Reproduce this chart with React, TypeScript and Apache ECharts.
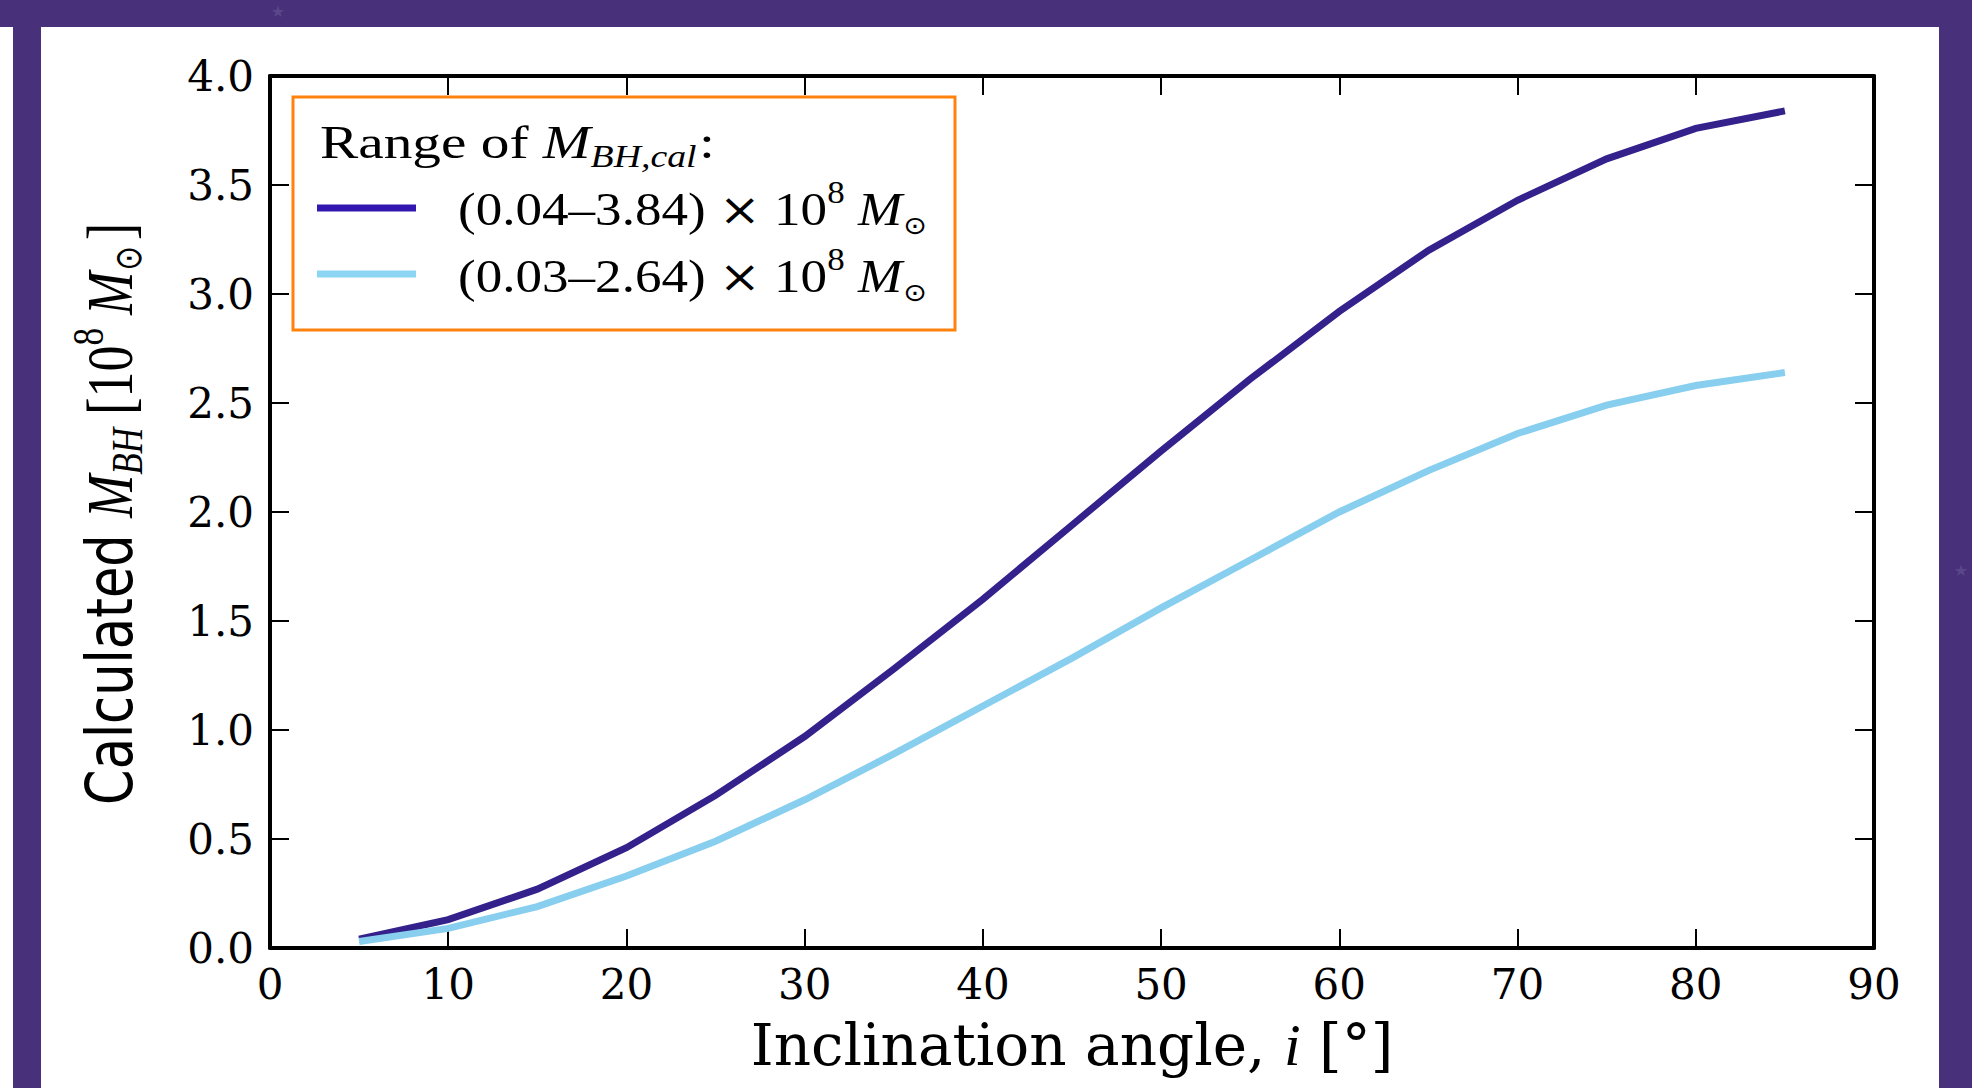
import React, { useEffect, useRef } from "react";
import * as echarts from "echarts";

// ---- data ----
const inclination = [5, 10, 15, 20, 25, 30, 35, 40, 45, 50, 55, 60, 65, 70, 75, 80, 85];
const massHigh = [0.04, 0.13, 0.27, 0.46, 0.7, 0.97, 1.28, 1.6, 1.94, 2.28, 2.61, 2.92, 3.2, 3.43, 3.62, 3.76, 3.84];
const massLow = [0.03, 0.09, 0.19, 0.33, 0.49, 0.68, 0.89, 1.11, 1.33, 1.56, 1.78, 2.0, 2.19, 2.36, 2.49, 2.58, 2.64];
const seriesRanges = ["(0.04\u20133.84)", "(0.03\u20132.64)"];
const xAxisRange = { min: 0, max: 90, interval: 10 };
const yAxisRange = { min: 0, max: 4, interval: 0.5 };

const COLOR_HIGH = "#34218c";
const COLOR_LOW = "#88ceee";
const LEGEND_HIGH = "#3318b0";
const LEGEND_LOW = "#8dd6f3";
const FRAME = "#48307a";
const ORANGE = "#ff820e";

const measureCtx = document.createElement("canvas").getContext("2d") as CanvasRenderingContext2D;
function measure(text: string, font: string) {
  measureCtx.font = font;
  return measureCtx.measureText(text).width;
}

type Piece = { t: string; font: string; dy?: number; gap?: number };
function layoutRow(pieces: Piece[], fill: string, z: number) {
  let x = 0;
  const children: any[] = [];
  for (const p of pieces) {
    x += p.gap || 0;
    const m = p.font.match(/(\d+(?:\.\d+)?)px/);
    const fs = m ? parseFloat(m[1]) : 20;
    children.push({
      type: "text",
      x,
      y: (p.dy || 0) - 0.34 * fs,
      z,
      silent: true,
      style: {
        text: p.t,
        font: p.font,
        fill,
        align: "left",
        verticalAlign: "middle",
        textAlign: "left",
        textVerticalAlign: "middle",
      },
    });
    x += measure(p.t, p.font);
  }
  return { children, width: x };
}

const SERIF = '"Liberation Serif"';

function legendRowPieces(range: string): Piece[] {
  return [
    { t: range + " ", font: `47px ${SERIF}` },
    { t: "\u00d7", font: `44px "DejaVu Serif"`, dy: -1 },
    { t: " 10", font: `47px ${SERIF}` },
    { t: "8", font: `31px ${SERIF}`, dy: -22 },
    { t: " M", font: `italic 47px ${SERIF}` },
    { t: "\u2299", font: `25px "DejaVu Sans"`, dy: 9, gap: 1 },
  ];
}

export default function App() {
  const ref = useRef<HTMLDivElement>(null);

  useEffect(() => {
    if (!ref.current) return;
    const chart = echarts.init(ref.current, undefined, { renderer: "svg" });

    const yTitle = layoutRow(
      [
        { t: "Calculated ", font: `55px "DejaVu Sans"` },
        { t: "M", font: `italic 56px ${SERIF}` },
        { t: "BH", font: `italic 38px ${SERIF}`, dy: 9 },
        { t: " [10", font: `56px ${SERIF}` },
        { t: "8", font: `38px ${SERIF}`, dy: -25 },
        { t: " M", font: `italic 56px ${SERIF}` },
        { t: "\u2299", font: `32px "DejaVu Sans"`, dy: 8, gap: 1 },
        { t: "]", font: `56px ${SERIF}`, gap: 6 },
      ],
      "#000",
      5
    );
    const yTitleLen = 805 - 223;

    const legTitle = layoutRow(
      [
        { t: "Range of ", font: `47px ${SERIF}` },
        { t: "M", font: `italic 47px ${SERIF}` },
        { t: "BH,cal", font: `italic 31px ${SERIF}`, dy: 9 },
        { t: ":", font: `47px ${SERIF}`, gap: 2 },
      ],
      "#000",
      20
    );
    const legRow1 = layoutRow(legendRowPieces(seriesRanges[0]), "#000", 20);
    const legRow2 = layoutRow(legendRowPieces(seriesRanges[1]), "#000", 20);

    const graphics: any[] = [
      { type: "rect", shape: { x: 0, y: 0, width: 1972, height: 27 }, style: { fill: FRAME }, silent: true },
      { type: "rect", shape: { x: 13, y: 27, width: 28, height: 1061 }, style: { fill: FRAME }, silent: true },
      { type: "rect", shape: { x: 1939, y: 0, width: 33, height: 1088 }, style: { fill: FRAME }, silent: true },
      {
        type: "text",
        x: 278,
        y: 11,
        z: 5,
        silent: true,
        style: { text: "\u2605", font: `16px "DejaVu Sans"`, fill: "#5a478a", align: "center", verticalAlign: "middle", textAlign: "center", textVerticalAlign: "middle" },
      },
      {
        type: "text",
        x: 1961,
        y: 570,
        z: 5,
        silent: true,
        style: { text: "\u2605", font: `16px "DejaVu Sans"`, fill: "#5a478a", align: "center", verticalAlign: "middle", textAlign: "center", textVerticalAlign: "middle" },
      },
      {
        type: "group",
        x: 132,
        y: 805,
        rotation: Math.PI / 2,
        scaleX: yTitleLen / yTitle.width,
        scaleY: 1.17,
        children: yTitle.children,
      },
      {
        type: "rect",
        z: 10,
        shape: { x: 293, y: 97, width: 662, height: 233 },
        style: { fill: "#fff", stroke: ORANGE, lineWidth: 3 },
        silent: true,
      },
      {
        type: "group",
        z: 20,
        x: 320,
        y: 158,
        scaleX: 395 / legTitle.width,
        children: legTitle.children,
      },
      {
        type: "line",
        z: 20,
        shape: { x1: 317, y1: 208, x2: 416, y2: 208 },
        style: { stroke: LEGEND_HIGH, lineWidth: 7 },
        silent: true,
      },
      {
        type: "line",
        z: 20,
        shape: { x1: 317, y1: 274, x2: 416, y2: 274 },
        style: { stroke: LEGEND_LOW, lineWidth: 7 },
        silent: true,
      },
      {
        type: "group",
        z: 20,
        x: 458,
        y: 225,
        scaleX: 469 / legRow1.width,
        children: legRow1.children,
      },
      {
        type: "group",
        z: 20,
        x: 458,
        y: 292,
        scaleX: 469 / legRow2.width,
        children: legRow2.children,
      },
    ];

    const tickLabel = { fontFamily: "DejaVu Serif", fontSize: 42, color: "#000" };
    const axisLine = () => ({ show: true, onZero: false, lineStyle: { color: "#000", width: 4 } });
    const axisTick = () => ({ show: true, inside: true, length: 19, lineStyle: { color: "#000", width: 2 } });

    chart.setOption({
      animation: false,
      backgroundColor: "#fff",
      grid: { left: 270, right: 98, top: 76, bottom: 140, containLabel: false },
      xAxis: [
        {
          type: "value",
          position: "bottom",
          ...xAxisRange,
          axisLine: axisLine(),
          axisTick: axisTick(),
          splitLine: { show: false },
          axisLabel: { ...tickLabel, margin: 15, formatter: (v: number) => String(v) },
          name: "Inclination angle, {i|i} [\u00b0]",
          nameLocation: "middle",
          nameGap: 67,
          nameTextStyle: {
            fontFamily: "DejaVu Serif",
            fontSize: 58,
            color: "#000",
            rich: { i: { fontFamily: "Liberation Serif", fontStyle: "italic", fontSize: 60, color: "#000" } },
          },
        },
        {
          type: "value",
          position: "top",
          ...xAxisRange,
          axisLine: axisLine(),
          axisTick: axisTick(),
          splitLine: { show: false },
          axisLabel: { show: false },
        },
      ],
      yAxis: [
        {
          type: "value",
          position: "left",
          ...yAxisRange,
          axisLine: axisLine(),
          axisTick: axisTick(),
          splitLine: { show: false },
          axisLabel: { ...tickLabel, margin: 16, formatter: (v: number) => v.toFixed(1) },
        },
        {
          type: "value",
          position: "right",
          ...yAxisRange,
          axisLine: axisLine(),
          axisTick: axisTick(),
          splitLine: { show: false },
          axisLabel: { show: false },
        },
      ],
      series: [
        {
          name: seriesRanges[0],
          type: "line",
          xAxisIndex: 0,
          yAxisIndex: 0,
          showSymbol: false,
          symbol: "none",
          data: inclination.map((x, i) => [x, massHigh[i]]),
          lineStyle: { color: COLOR_HIGH, width: 7, cap: "butt", join: "miter" },
          itemStyle: { color: COLOR_HIGH },
        },
        {
          name: seriesRanges[1],
          type: "line",
          xAxisIndex: 0,
          yAxisIndex: 0,
          showSymbol: false,
          symbol: "none",
          data: inclination.map((x, i) => [x, massLow[i]]),
          lineStyle: { color: COLOR_LOW, width: 7, cap: "butt", join: "miter" },
          itemStyle: { color: COLOR_LOW },
        },
      ],
      graphic: graphics,
    });

    return () => chart.dispose();
  }, []);

  return (
    <div
      ref={ref}
      style={{ position: "absolute", left: 0, top: 0, width: 1972, height: 1088 }}
    />
  );
}
